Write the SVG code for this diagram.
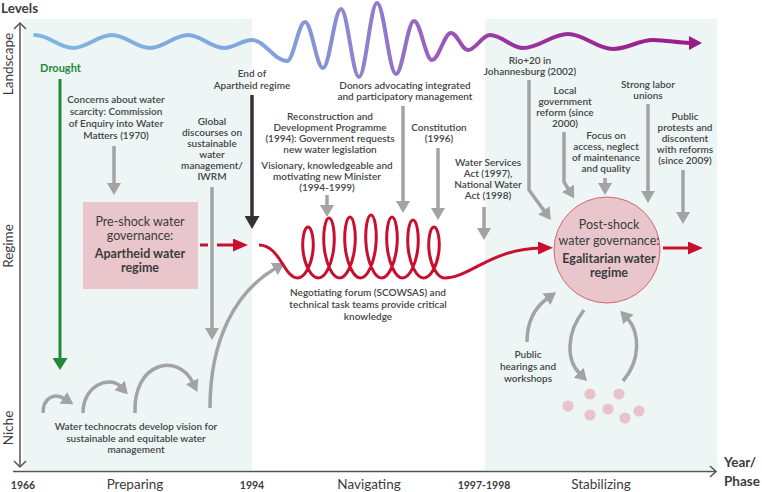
<svg xmlns="http://www.w3.org/2000/svg" width="762" height="492" viewBox="0 0 762 492">
<defs>
<style>
.t{font-family:Lato,"Open Sans","Liberation Sans",sans-serif;font-size:10px;font-weight:600;fill:#454545;text-anchor:middle}
.ax{font-family:Lato,"Open Sans","Liberation Sans",sans-serif;font-size:13.5px;fill:#3c3c3c;text-anchor:middle}
.yr{font-family:Lato,"Open Sans","Liberation Sans",sans-serif;font-size:10.5px;font-weight:700;fill:#3c3c3c;text-anchor:middle}
.hd{font-family:Lato,"Open Sans","Liberation Sans",sans-serif;font-size:13.5px;font-weight:700;fill:#3c3c3c}
.nr{font-family:Lato,"Open Sans","Liberation Sans",sans-serif;font-size:12.5px;fill:#3c3c3c;text-anchor:middle}
.nb{font-family:Lato,"Open Sans","Liberation Sans",sans-serif;font-size:12.5px;font-weight:700;fill:#3c3c3c;text-anchor:middle}
.g{fill:none;stroke:#a3a3a3;stroke-width:3.5;marker-end:url(#mg)}
.r{fill:none;stroke:#c8102e;stroke-width:3;marker-end:url(#mr)}
.ax-l{fill:none;stroke:#555;stroke-width:1.5}
.dot{fill:#e8c3c9}
</style>
<linearGradient id="wg" gradientUnits="userSpaceOnUse" x1="35" y1="0" x2="703" y2="0">
<stop offset="0" stop-color="#80b6e2"/>
<stop offset="0.35" stop-color="#7ea6da"/>
<stop offset="0.5" stop-color="#8f80cc"/>
<stop offset="0.6" stop-color="#9a5fbd"/>
<stop offset="0.7" stop-color="#9a35a2"/>
<stop offset="1" stop-color="#9b1a86"/>
</linearGradient>
<marker id="mg" markerUnits="userSpaceOnUse" viewBox="0 0 12 14" refX="2" refY="7" markerWidth="12" markerHeight="14" orient="auto"><path d="M0,0 L12,7 L0,14 z" fill="#a3a3a3"/></marker>
<marker id="mgr" markerUnits="userSpaceOnUse" viewBox="0 0 12 15" refX="2" refY="7.5" markerWidth="12" markerHeight="15" orient="auto"><path d="M0,0 L12,7.5 L0,15 z" fill="#23893a"/></marker>
<marker id="md" markerUnits="userSpaceOnUse" viewBox="0 0 13 15" refX="3" refY="7.5" markerWidth="13" markerHeight="15" orient="auto"><path d="M0,0 L13,7.5 L0,15 z" fill="#333"/></marker>
<marker id="mr" markerUnits="userSpaceOnUse" viewBox="0 0 15 13" refX="3" refY="6.5" markerWidth="15" markerHeight="13" orient="auto"><path d="M0,0 L15,6.5 L0,13 z" fill="#c8102e"/></marker>
<marker id="mm" markerUnits="userSpaceOnUse" viewBox="0 0 13 14" refX="1" refY="7" markerWidth="13" markerHeight="14" orient="auto"><path d="M0,0 L13,7 L0,14 z" fill="#9b1a86"/></marker>
</defs>
<rect width="762" height="492" fill="#fff"/>
<g id="panels">
<rect x="23" y="19" width="229" height="451" fill="#edf5f5"/>
<rect x="485" y="19" width="232" height="451" fill="#edf5f5"/>
</g>
<g id="axes">
<path class="ax-l" d="M20,23 V467"/>
<path class="ax-l" d="M14,29 L20,23 L26,29"/>
<path class="ax-l" d="M14,461 L20,467 L26,461"/>
<path class="ax-l" d="M13,471.5 H716"/>
<path class="ax-l" d="M710,466 L716,471.5 L710,477"/>
<text class="hd" x="1" y="13">Levels</text>
<text class="ax" transform="translate(13,64) rotate(-90)">Landscape</text>
<text class="ax" transform="translate(13,246) rotate(-90)">Regime</text>
<text class="ax" transform="translate(13,428) rotate(-90)">Niche</text>
<text class="yr" x="23" y="489">1966</text>
<text class="ax" x="135" y="489">Preparing</text>
<text class="yr" x="252" y="489">1994</text>
<text class="ax" x="369" y="489">Navigating</text>
<text class="yr" x="484" y="489">1997-1998</text>
<text class="ax" x="601" y="489">Stabilizing</text>
<text class="hd" x="724" y="467">Year/</text>
<text class="hd" x="724" y="486">Phase</text>
</g>
<g id="landscape-wave">
<path d="M35,35 C48.8,35 59.2,48 73,48 C87.2,48 97.8,35 112,35 C125.8,35 136.2,48 150,48 C163.8,48 174.2,35 188,35 C201.1,35 210.9,48 224,48 C234.2,48 241.8,40 252,40 C264.7,40 274.3,61 287,61 C293.5,61 298.5,22 305,22 C311.5,22 316.5,68 323,68 C329.5,68 334.5,9 341,9 C347.5,9 352.5,77 359,77 C365.5,77 370.5,3 377,3 C383.9,3 389.1,74 396,74 C402.5,74 407.5,21 414,21 C420.5,21 425.5,60 432,60 C438.9,60 444.1,33 451,33 C457.2,33 461.8,50 468,50 C476,50 482,35 490,35 C502,35 511,48 523,48 C539.3,48 551.7,34 568,34 C584.3,34 596.7,49 613,49 C627.5,49 638.5,40 653,40 C667,40 678,43 690,43" fill="none" stroke="url(#wg)" stroke-width="4" stroke-linecap="round" marker-end="url(#mm)"/>
</g>
<g id="connectors">
<path d="M60,79 V360" fill="none" stroke="#23893a" stroke-width="3" marker-end="url(#mgr)"/>
<path d="M252,95 V219" fill="none" stroke="#333" stroke-width="3.5" marker-end="url(#md)"/>
<path class="g" d="M114,146 V185"/>
<path class="g" d="M212,187 V330"/>
<path class="g" d="M210,408 C210,340 235,292 276,268"/>
<path class="g" d="M43,413 C43,398 54,392 65,399"/>
<path class="g" d="M83,413 C83,385 110,375 121,387"/>
<path class="g" d="M135,413 C133,362 178,352 193,383"/>
<path class="g" d="M327,195 V207"/>
<path class="g" d="M403,106 V203"/>
<path class="g" d="M438,148 V210"/>
<path class="g" d="M484,207 V230"/>
<path class="g" d="M529,80 V190 L545,212"/>
<path class="g" d="M564,132 V182 L569,190"/>
<path class="g" d="M605,178 V185"/>
<path class="g" d="M648,104 V193"/>
<path class="g" d="M683,170 V214"/>
<path class="g" d="M527,342 C527,322 535,307 548,298"/>
<path class="g" d="M584,310 C566,333 566,360 580,374"/>
<path class="g" d="M623,381 C641,360 640,332 627,318"/>
<path d="M200,245 H208" fill="none" stroke="#c8102e" stroke-width="3"/>
<path class="r" d="M217,245 H236"/>
<path class="r" d="M259,245 C280,245 284,278 297.5,278
c6.98,0 13.5,-12.15 15.25,-25.5 c1.75,-13.35 -1.27,-25.5 -4.76,-25.5 c-3.49,0 -6.5,12.15 -4.75,25.5 c1.75,13.35 8.28,25.5 15.26,25.5
c6.98,0 13.5,-14.29 15.25,-30 c1.75,-15.71 -1.27,-30 -4.76,-30 c-3.49,0 -6.5,14.29 -4.75,30 c1.75,15.71 8.28,30 15.26,30
c6.98,0 13.5,-14.53 15.25,-30.5 c1.75,-15.97 -1.27,-30.5 -4.76,-30.5 c-3.49,0 -6.5,14.53 -4.75,30.5 c1.75,15.97 8.28,30.5 15.26,30.5
c6.98,0 13.5,-15.01 15.25,-31.5 c1.75,-16.49 -1.27,-31.5 -4.76,-31.5 c-3.49,0 -6.5,15.01 -4.75,31.5 c1.75,16.49 8.28,31.5 15.26,31.5
c6.98,0 13.5,-14.53 15.25,-30.5 c1.75,-15.97 -1.27,-30.5 -4.76,-30.5 c-3.49,0 -6.5,14.53 -4.75,30.5 c1.75,15.97 8.28,30.5 15.26,30.5
c6.98,0 13.5,-13.82 15.25,-29 c1.75,-15.18 -1.27,-29 -4.76,-29 c-3.49,0 -6.5,13.82 -4.75,29 c1.75,15.18 8.28,29 15.26,29
c6.98,0 13.5,-12.15 15.25,-25.5 c1.75,-13.35 -1.27,-25.5 -4.76,-25.5 c-3.49,0 -6.5,12.15 -4.75,25.5 c1.75,13.35 8.28,25.5 15.26,25.5
C470,278 490,249 541,248"/>
<path class="r" d="M663,248 H691"/>
</g>
<g id="node-preshock">
<rect x="83" y="202" width="115" height="87" fill="#e8c6cb"/>
<text class="nr" x="140" y="226">Pre-shock water</text>
<text class="nr" x="140" y="240">governance:</text>
<text class="nb" x="140" y="258">Apartheid water</text>
<text class="nb" x="140" y="272">regime</text>
</g>
<g id="node-postshock">
<circle cx="607" cy="250" r="53" fill="#e8c6cb" stroke="#d8646f" stroke-width="1"/>
<text class="nr" x="609" y="229">Post-shock</text>
<text class="nr" x="609" y="245">water governance:</text>
<text class="nb" x="609" y="263">Egalitarian water</text>
<text class="nb" x="609" y="277">regime</text>
</g>
<g id="niche-dots">
<circle class="dot" cx="590" cy="394" r="5.6"/>
<circle class="dot" cx="619" cy="394" r="5.6"/>
<circle class="dot" cx="568" cy="406" r="5.6"/>
<circle class="dot" cx="590" cy="415" r="5.6"/>
<circle class="dot" cx="608" cy="409" r="5.6"/>
<circle class="dot" cx="625" cy="418" r="5.6"/>
<circle class="dot" cx="639" cy="411" r="5.6"/>
</g>
<g id="labels">
<text class="t" x="60.5" y="72" style="fill:#23893a;font-size:11px;font-weight:700">Drought</text>
<g id="lbl-concerns"><text class="t" x="116" y="103">Concerns about water</text><text class="t" x="116" y="115">scarcity: Commission</text><text class="t" x="116" y="127">of Enquiry into Water</text><text class="t" x="116" y="139">Matters (1970)</text></g>
<g id="lbl-end"><text class="t" x="252" y="77">End of</text><text class="t" x="252" y="89">Apartheid regime</text></g>
<g id="lbl-global"><text class="t" x="212" y="125">Global</text><text class="t" x="212" y="136">discourses on</text><text class="t" x="212" y="147">sustainable</text><text class="t" x="212" y="158">water</text><text class="t" x="212" y="169">management/</text><text class="t" x="212" y="180">IWRM</text></g>
<g id="lbl-donors"><text class="t" x="405" y="89">Donors advocating integrated</text><text class="t" x="405" y="100">and participatory management</text></g>
<g id="lbl-rdp"><text class="t" x="330" y="120">Reconstruction and</text><text class="t" x="330" y="131">Development Programme</text><text class="t" x="330" y="142">(1994): Government requests</text><text class="t" x="330" y="153">new water legislation</text></g>
<g id="lbl-minister"><text class="t" x="327" y="169">Visionary, knowledgeable and</text><text class="t" x="327" y="180">motivating new Minister</text><text class="t" x="327" y="191">(1994-1999)</text></g>
<g id="lbl-constitution"><text class="t" x="439" y="131">Constitution</text><text class="t" x="439" y="142">(1996)</text></g>
<g id="lbl-acts"><text class="t" x="488" y="166">Water Services</text><text class="t" x="488" y="177">Act (1997),</text><text class="t" x="488" y="188">National Water</text><text class="t" x="488" y="199">Act (1998)</text></g>
<g id="lbl-rio"><text class="t" x="530" y="64">Rio+20 in</text><text class="t" x="530" y="75">Johannesburg (2002)</text></g>
<g id="lbl-local"><text class="t" x="565" y="94">Local</text><text class="t" x="565" y="105">government</text><text class="t" x="565" y="116">reform (since</text><text class="t" x="565" y="127">2000)</text></g>
<g id="lbl-focus"><text class="t" x="606" y="139">Focus on</text><text class="t" x="606" y="150">access, neglect</text><text class="t" x="606" y="161">of maintenance</text><text class="t" x="606" y="172">and quality</text></g>
<g id="lbl-labor"><text class="t" x="648" y="88">Strong labor</text><text class="t" x="648" y="99">unions</text></g>
<g id="lbl-protests"><text class="t" x="685" y="120">Public</text><text class="t" x="685" y="131">protests and</text><text class="t" x="685" y="142">discontent</text><text class="t" x="685" y="153">with reforms</text><text class="t" x="685" y="164">(since 2009)</text></g>
<g id="lbl-forum"><text class="t" x="368" y="296">Negotiating forum (SCOWSAS) and</text><text class="t" x="368" y="308">technical task teams provide critical</text><text class="t" x="368" y="320">knowledge</text></g>
<g id="lbl-technocrats"><text class="t" x="136" y="430">Water technocrats develop vision for</text><text class="t" x="136" y="441.5">sustainable and equitable water</text><text class="t" x="136" y="453">management</text></g>
<g id="lbl-hearings"><text class="t" x="528" y="358">Public</text><text class="t" x="528" y="370">hearings and</text><text class="t" x="528" y="382">workshops</text></g>
</g>
</svg>
